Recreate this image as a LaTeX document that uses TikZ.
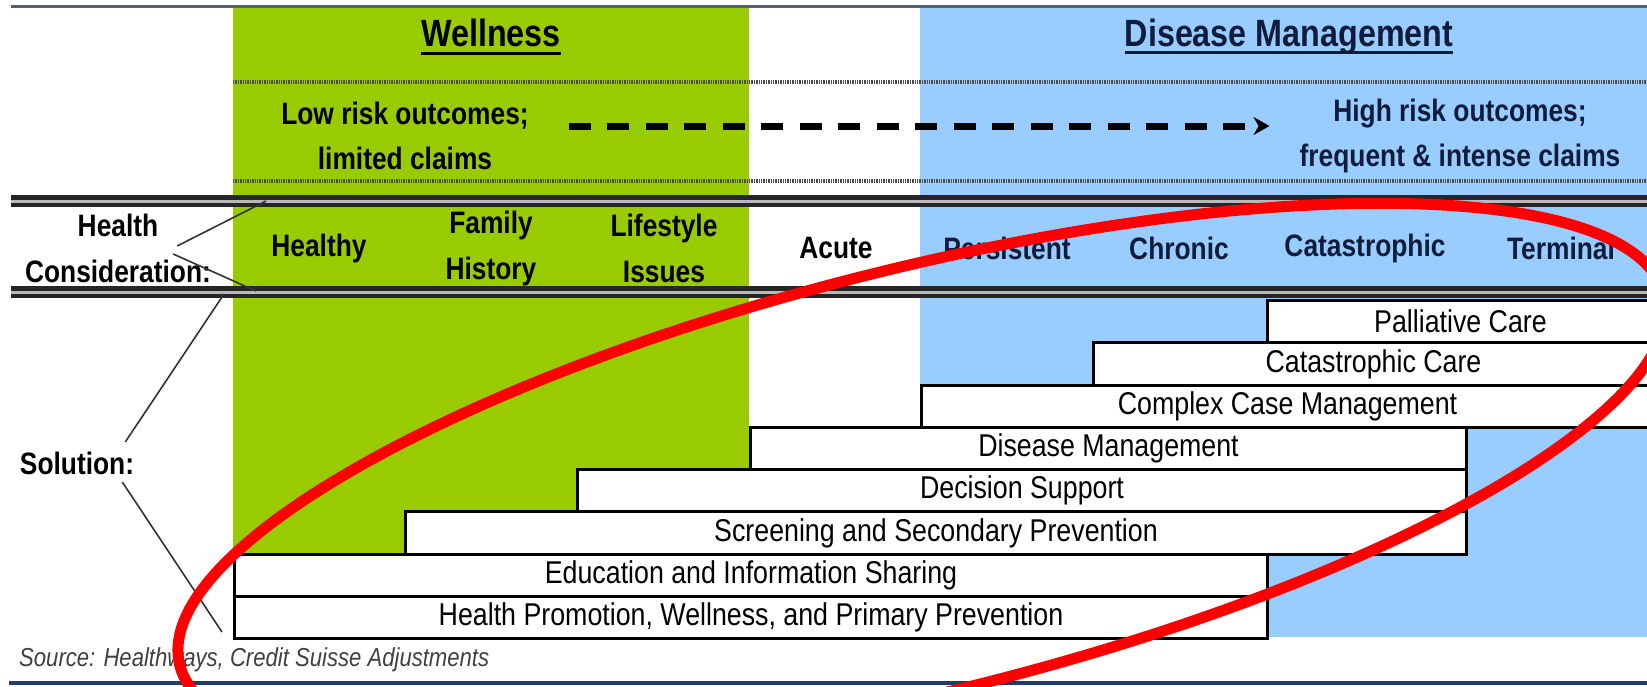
\documentclass[tikz,border=0pt]{standalone}
\usepackage{fontspec}
\setmainfont{Liberation Sans}[FakeStretch=0.85]
\usepackage{tikz}
\usetikzlibrary{arrows.meta,positioning}

\definecolor{wellgreen}{RGB}{153,204,0}
\definecolor{dmblue}{RGB}{153,204,255}
\definecolor{navyink}{RGB}{16,28,58}
\definecolor{topgray}{RGB}{85,95,115}
\definecolor{footblue}{RGB}{30,60,110}
\definecolor{ringred}{RGB}{255,0,0}

\newsavebox\ulbox
\newcommand{\thickul}[1]{\sbox\ulbox{#1}\rlap{\rule[-0.2em]{\wd\ulbox}{0.08em}}\usebox\ulbox}

\begin{document}
\begin{tikzpicture}[x=1pt, y=-1pt,
	title/.style   = {font=\fontsize{38}{44}\selectfont\bfseries, inner sep=0},
	risk/.style    = {font=\fontsize{31}{45}\selectfont\bfseries, align=center, inner sep=0},
	colhead/.style = {font=\fontsize{31}{46}\selectfont\bfseries, align=center, inner sep=0},
	solbox/.style  = {draw, line width=3pt, fill=white, anchor=north west, inner sep=0,
	                  minimum height=42.25pt, font=\fontsize{31.5}{36}\selectfont},
	dotrule/.style = {draw=black!70, line width=4pt, dash pattern=on 1.3pt off 1.1pt},
	dblrule/.style = {draw=black!85, double=gray!55, double distance=3pt, line width=4.5pt},
	leader/.style  = {draw=black!80, line width=1.6pt},
	>=Stealth]

	\useasboundingbox (0,0) rectangle (1647,686);

	% background bands
	\fill[wellgreen] (233,7) rectangle (749,553);
	\fill[dmblue] (920,7) rectangle (1647,637);
	\draw[topgray, line width=3pt] (11,6) -- (1647,6);
	\draw[footblue, line width=4pt] (9,683) -- (1647,683);

	% rules across the chart
	\draw[dotrule] (233,82) -- (1647,82);
	\draw[dotrule] (233,181) -- (1647,181);
	\draw[dblrule] (11,201) -- (1647,201);
	\draw[dblrule] (11,292) -- (1647,292);

	% titles and outcome row
	\node[title] (wtitle) at (491,37) {\thickul{Wellness}};
	\node[title, text=navyink] (dtitle) at (1289,37) {\thickul{Disease Management}};

	\node[risk] (low) at (405,136) {Low risk outcomes;\\limited claims};
	\node[risk, text=navyink] (high) at (1460,136) {High risk outcomes;\\frequent \& intense claims};

	\draw[line width=7pt, dash pattern=on 22pt off 16.5pt, -{Stealth[length=16pt,width=18pt]}]
		([xshift=40pt,yshift=10pt]low.east) -- ([xshift=-30pt,yshift=10pt]high.west);

	% health consideration row
	\node[colhead] (hc) at (118,248) {Health\\Consideration:};
	\begin{scope}[every node/.style={colhead}]
		\node (healthy) at (319,248) {Healthy};
		\node (family) at (491,248) {Family\\History};
		\node (lifestyle) at (664,248) {Lifestyle\\Issues};
		\node (acute) at (836,248) {Acute};
	\end{scope}
	\begin{scope}[every node/.style={colhead, text=navyink}]
		\node (persistent) at (1007,248) {Persistent};
		\node (chronic) at (1179,248) {Chronic};
		\node (catastrophic) at (1365,248) {Catastrophic};
		\node (terminal) at (1561,248) {Terminal};
	\end{scope}

	\node[colhead] (sol) at (77,463) {Solution:};

	% solution staircase
	\begin{scope}[every node/.style={solbox}]
		\node[minimum width=386pt] (palliative) at (1266,299) {Palliative Care};
		\node[minimum width=560pt] (catcare) at (1092,341.25) {Catastrophic Care};
		\node[minimum width=732pt] (complex) at (920,383.5) {Complex Case Management};
		\node[minimum width=716pt] (dism) at (749,425.75) {Disease Management};
		\node[minimum width=889pt] (decision) at (576,468) {Decision Support};
		\node[minimum width=1061pt] (screening) at (404,510.25) {Screening and Secondary Prevention};
		\node[minimum width=1033pt] (education) at (233,552.5) {Education and Information Sharing};
		\node[minimum width=1033pt] (promotion) at (233,594.75) {Health Promotion, Wellness, and Primary Prevention};
	\end{scope}

	% leader lines from the row labels
	\coordinate (hcTop) at (266,201);
	\coordinate (hcBot) at (256,291);
	\coordinate (solTop) at (224,294);
	\coordinate (solBot) at (222,632);
	\draw[leader] ([xshift=-34pt,yshift=2pt]hc.east) -- (hcTop);
	\draw[leader] ([xshift=-38pt,yshift=-6pt]hc.east) -- (hcBot);
	\draw[leader] ([xshift=-9pt,yshift=21pt]sol.east) -- (solTop);
	\draw[leader] ([xshift=-12pt,yshift=-19pt]sol.east) -- (solBot);

	\node[anchor=west, inner sep=0, font=\fontsize{26}{30}\selectfont\itshape, text=black!75] (src) at (19,660)
		{Source: Healthways, Credit Suisse Adjustments};

	% red ring
	\begin{scope}[shift={(922,480)}, rotate=14]
		\draw[ringred, line width=11pt] (0,0) ellipse [x radius=765, y radius=212];
	\end{scope}

\end{tikzpicture}
\end{document}
